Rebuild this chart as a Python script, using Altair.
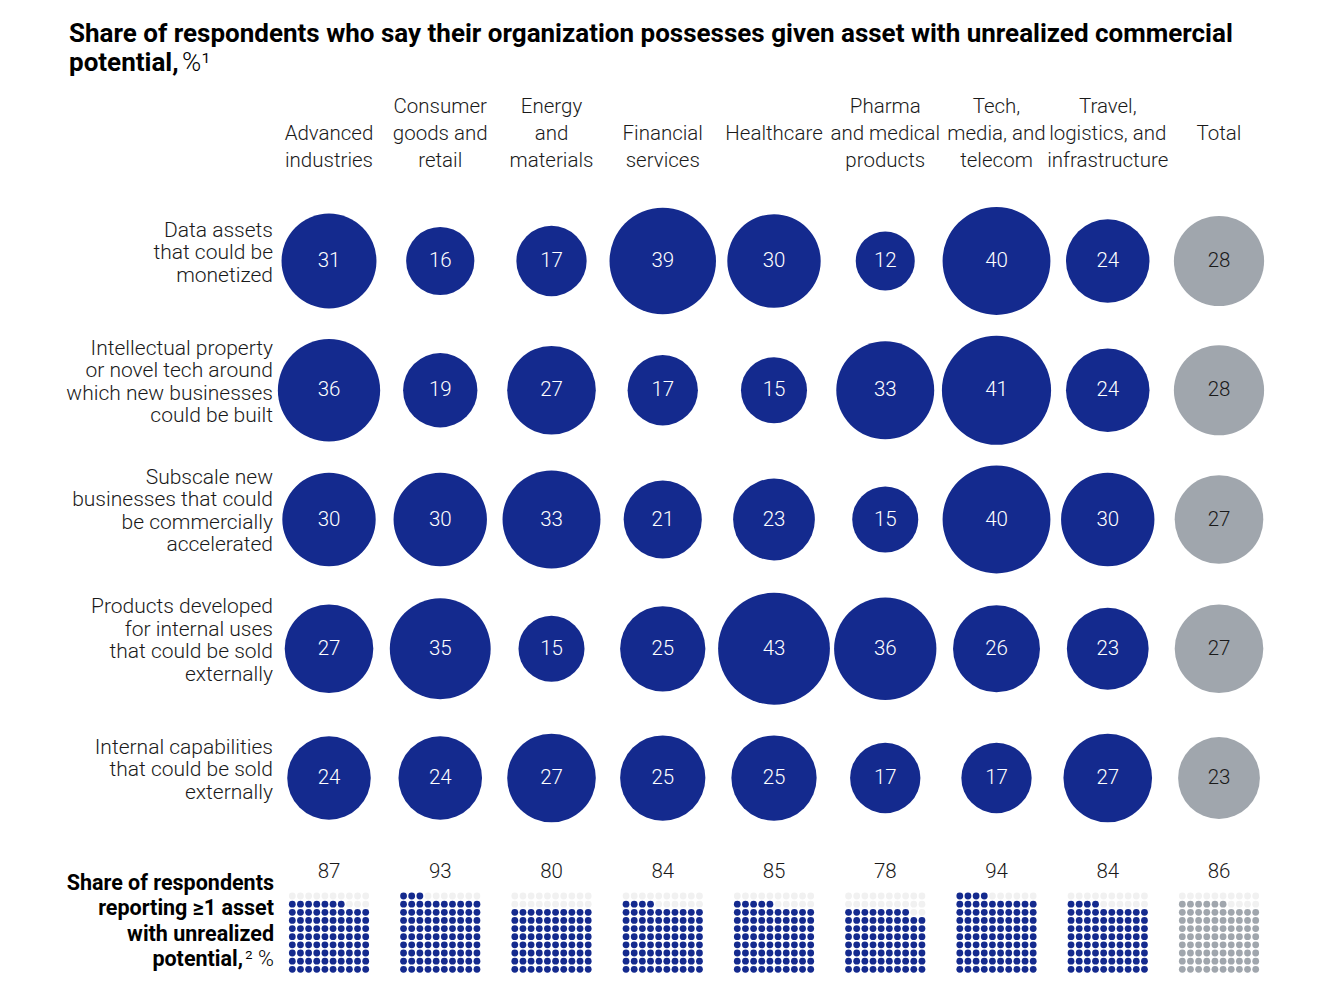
import altair as alt
import pandas as pd

categories = ["Advanced industries", "Consumer goods and retail", "Energy and materials",
              "Financial services", "Healthcare", "Pharma and medical products",
              "Tech, media, and telecom", "Travel, logistics, and infrastructure", "Total"]
header_labels = ["Advanced\nindustries", "Consumer\ngoods and\nretail", "Energy\nand\nmaterials",
                 "Financial\nservices", "Healthcare", "Pharma\nand medical\nproducts",
                 "Tech,\nmedia, and\ntelecom", "Travel,\nlogistics, and\ninfrastructure", "Total"]
assets = ["Data assets", "Intellectual property", "Subscale new businesses",
          "Products developed for internal uses", "Internal capabilities"]
asset_labels = ["Data assets\nthat could be\nmonetized",
                "Intellectual property\nor novel tech around\nwhich new businesses\ncould be built",
                "Subscale new\nbusinesses that could\nbe commercially\naccelerated",
                "Products developed\nfor internal uses\nthat could be sold\nexternally",
                "Internal capabilities\nthat could be sold\nexternally"]
data_assets = [31, 16, 17, 39, 30, 12, 40, 24, 28]
intellectual_property = [36, 19, 27, 17, 15, 33, 41, 24, 28]
subscale_businesses = [30, 30, 33, 21, 23, 15, 40, 30, 27]
internal_products = [27, 35, 15, 25, 43, 36, 26, 23, 27]
internal_capabilities = [24, 24, 27, 25, 25, 17, 17, 27, 23]
share_any_asset = [87, 93, 80, 84, 85, 78, 94, 84, 86]

title_line1 = "Share of respondents who say their organization possesses given asset with unrealized commercial"
title_line2 = "potential,"
title_unit = "%\u00b9"
waffle_label = "Share of respondents\nreporting \u22651 asset\nwith unrealized"
waffle_label2 = "potential,"
waffle_unit = "\u00b2 %"

BLUE = "#142a8e"
GRAY = "#a0a6ad"
EMPTY = "#f1f1f1"
INK = "#1a1a1a"
FONT = "Roboto"
ROW_LH = 22.5
HEAD_LH = 27

series = [data_assets, intellectual_property, subscale_businesses, internal_products, internal_capabilities]
rows = []
for a, vals in zip(assets, series):
    for c, v in zip(categories, vals):
        rows.append({"asset": a, "cat": c, "value": v, "group": "total" if c == "Total" else "ind"})
bubbles = pd.DataFrame(rows)

# headers bottom-aligned: pad to three lines at the top
max_lines = max(h.count("\n") + 1 for h in header_labels)
heads = pd.DataFrame({"cat": categories,
                      "label": ["\n" * (max_lines - (h.count("\n") + 1)) + h for h in header_labels]})
labels = pd.DataFrame({"asset": assets, "label": asset_labels})
counts = pd.DataFrame({"cat": categories, "value": share_any_asset})

wrows = []
for c, v in zip(categories, share_any_asset):
    for r in range(10):
        for k in range(10):
            filled = (9 - r) * 10 + k < v
            grp = ("total" if c == "Total" else "ind") if filled else "empty"
            wrows.append({"cat": c, "r": r, "k": k, "group": grp})
waffle = pd.DataFrame(wrows)

xenc = alt.X("cat:N", scale=alt.Scale(type="point", domain=categories, range=[321, 1211], padding=0), axis=None)
yenc = alt.Y("asset:N", scale=alt.Scale(type="point", domain=assets, range=[253, 770], padding=0), axis=None)
color = alt.Color("group:N", scale=alt.Scale(domain=["ind", "total", "empty"], range=[BLUE, GRAY, EMPTY]), legend=None)

circles = alt.Chart(bubbles).mark_circle(opacity=1).encode(
    x=xenc, y=yenc, color=color,
    size=alt.Size("value:Q", scale=alt.Scale(type="linear", domain=[0, 43], range=[0, 12500]), legend=None),
)
circle_text = alt.Chart(bubbles).mark_text(font=FONT, fontSize=20.5, fontWeight=300, baseline="middle").encode(
    x=xenc, y=yenc, text="value:Q",
    color=alt.condition("datum.group == 'total'", alt.value(INK), alt.value("white")),
)
header_text = alt.Chart(heads).mark_text(font=FONT, fontSize=20.5, fontWeight=300, baseline="middle",
                                         lineBreak="\n", lineHeight=HEAD_LH, color=INK).encode(
    x=xenc, y=alt.value(99), text="label:N")

row_layers = []
for a, lab in zip(assets, asset_labels):
    n = lab.count("\n") + 1
    row_layers.append(
        alt.Chart(labels).transform_filter(alt.datum.asset == a).mark_text(
            font=FONT, fontSize=21, fontWeight=300, baseline="middle", align="right",
            lineBreak="\n", lineHeight=ROW_LH, color=INK, dy=-(n - 1) / 2 * ROW_LH - 8
        ).encode(x=alt.value(265), y=yenc, text="label:N")
    )

count_text = alt.Chart(counts).mark_text(font=FONT, fontSize=20.5, fontWeight=300, baseline="middle", color=INK).encode(
    x=xenc, y=alt.value(864), text="value:Q")
dots = alt.Chart(waffle).mark_circle(size=46, opacity=1).encode(
    x=xenc,
    xOffset=alt.XOffset("k:O", scale=alt.Scale(type="point", domain=list(range(10)), range=[-36.7, 36.7], padding=0)),
    y=alt.Y("r:O", scale=alt.Scale(type="point", domain=list(range(10)), range=[888, 961.3], padding=0), axis=None),
    color=color,
)

one = pd.DataFrame({"k": [0]})
t1 = alt.Chart(one).mark_text(text=title_line1, font=FONT, fontSize=26, fontWeight="bold", align="left",
                              baseline="alphabetic", color="#000").encode(x=alt.value(61), y=alt.value(34))
t2 = alt.Chart(one).mark_text(text=title_line2, font=FONT, fontSize=26, fontWeight="bold", align="left",
                              baseline="alphabetic", color="#000").encode(x=alt.value(61), y=alt.value(63))
t3 = alt.Chart(one).mark_text(text=title_unit, font=FONT, fontSize=26, fontWeight=300, align="left",
                              baseline="alphabetic", color="#000").encode(x=alt.value(174), y=alt.value(63))
w1 = alt.Chart(one).mark_text(text=waffle_label, font=FONT, fontSize=21.5, fontWeight="bold", align="right",
                              baseline="alphabetic", lineBreak="\n", lineHeight=25.3, color="#000").encode(
    x=alt.value(266), y=alt.value(882))
w2 = alt.Chart(one).mark_text(text=waffle_label2, font=FONT, fontSize=21.5, fontWeight="bold", align="right",
                              baseline="alphabetic", color="#000").encode(x=alt.value(235), y=alt.value(958))
w3 = alt.Chart(one).mark_text(text=waffle_unit, font=FONT, fontSize=21.5, fontWeight=300, align="right",
                              baseline="alphabetic", color="#000").encode(x=alt.value(266), y=alt.value(958))

chart = alt.layer(circles, circle_text, header_text, *row_layers, count_text, dots, t1, t2, t3, w1, w2, w3).resolve_scale(
    y="independent"
).properties(
    width=1322, height=984, padding=0, autosize=alt.AutoSizeParams(type="none"), background="white"
).configure_view(stroke=None)

chart.save("out.html", embed_options={"renderer": "svg", "actions": False})
